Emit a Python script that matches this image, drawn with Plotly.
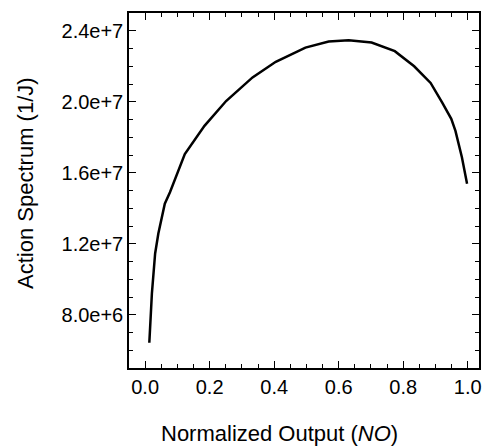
import plotly.graph_objects as go

# Data
normalized_output = [0.013, 0.021, 0.031, 0.041, 0.061, 0.077, 0.123, 0.184, 0.251,
                     0.333, 0.405, 0.497, 0.569, 0.631, 0.702, 0.774, 0.834, 0.885,
                     0.921, 0.949, 0.962, 0.982, 0.998]
action_spectrum = [6.42e6, 9.2e6, 1.145e7, 1.258e7, 1.426e7, 1.49e7, 1.705e7, 1.864e7,
                   2.004e7, 2.137e7, 2.225e7, 2.305e7, 2.339e7, 2.347e7, 2.334e7,
                   2.285e7, 2.2e7, 2.106e7, 1.995e7, 1.904e7, 1.836e7, 1.687e7, 1.538e7]

x_title = "Normalized Output (<i>NO</i>)"
y_title = "Action Spectrum (1/J)"

FONT = "Liberation Sans, Arial, sans-serif"

fig = go.Figure()
fig.add_trace(go.Scatter(
    x=normalized_output, y=action_spectrum, mode="lines",
    line=dict(color="black", width=2.5), showlegend=False,
))

axis_common = dict(
    showgrid=False, zeroline=False, showline=True, linecolor="black", linewidth=1.5,
    mirror="ticks", ticks="inside", ticklen=7, tickwidth=1, tickcolor="black",
    tickfont=dict(family=FONT, size=20, color="black"),
)

fig.update_xaxes(
    range=[-0.05, 1.035], tick0=0, dtick=0.2, tickformat=".1f",
    minor=dict(ticks="inside", dtick=0.05, ticklen=4, tickcolor="black", tickwidth=1),
    **axis_common,
)
fig.update_yaxes(
    range=[5e6, 2.5e7], tick0=8e6, dtick=4e6, tickformat=".1e",
    minor=dict(ticks="inside", dtick=1e6, ticklen=4, tickcolor="black", tickwidth=1),
    **axis_common,
)

fig.add_annotation(text=x_title, xref="paper", yref="paper", x=0.4306, y=-0.185,
                   xanchor="center", yanchor="middle", showarrow=False,
                   font=dict(family=FONT, size=22, color="black"))
fig.add_annotation(text=y_title, xref="paper", yref="paper", x=-0.2975, y=0.521,
                   xanchor="center", yanchor="middle", showarrow=False, textangle=-90,
                   font=dict(family=FONT, size=22, color="black"))

fig.update_layout(
    width=487, height=448,
    margin=dict(l=129, r=5, t=13, b=80),
    paper_bgcolor="white", plot_bgcolor="white",
)

fig.write_html("out.html")
